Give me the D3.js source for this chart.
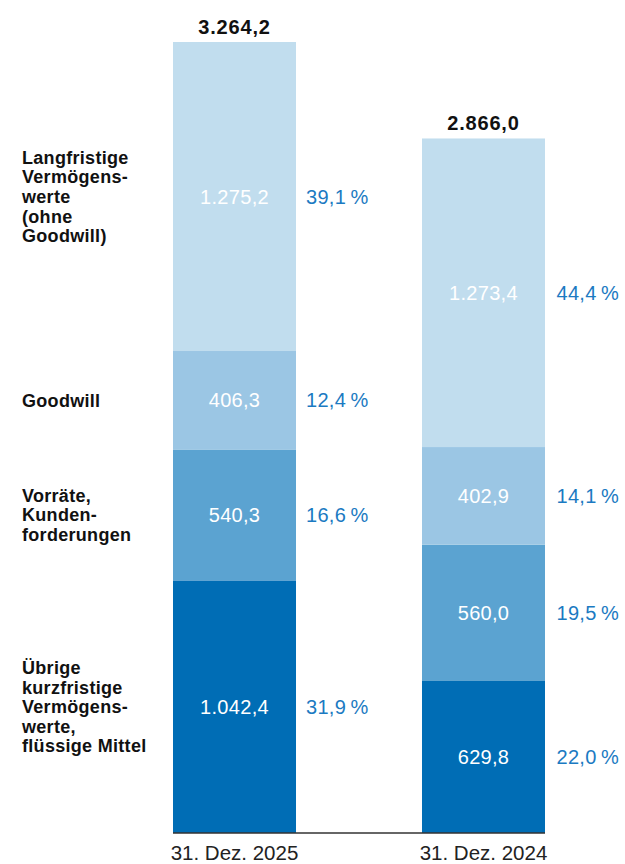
<!DOCTYPE html>
<html><head><meta charset="utf-8">
<script src="https://cdn.jsdelivr.net/npm/d3@7"></script>
<style>body{margin:0;background:#fff}svg{display:block}</style>
</head><body>
<script>
const periods = ["31. Dez. 2025", "31. Dez. 2024"];
const totals = [3264.2, 2866.0];
const categories = ["Übrige kurzfristige Vermögenswerte, flüssige Mittel", "Vorräte, Kundenforderungen", "Goodwill", "Langfristige Vermögenswerte (ohne Goodwill)"];
const categoryLines = [
  ["Übrige", "kurzfristige", "Vermögens-", "werte,", "flüssige Mittel"],
  ["Vorräte,", "Kunden-", "forderungen"],
  ["Goodwill"],
  ["Langfristige", "Vermögens-", "werte", "(ohne", "Goodwill)"]
];
const values2025 = [1042.4, 540.3, 406.3, 1275.2];
const values2024 = [629.8, 560.0, 402.9, 1273.4];
const shares2025 = ["31,9\u2009%", "16,6\u2009%", "12,4\u2009%", "39,1\u2009%"];
const shares2024 = ["22,0\u2009%", "19,5\u2009%", "14,1\u2009%", "44,4\u2009%"];
const colors = ["#006db5", "#5ba3d1", "#9bc6e4", "#c1ddee"];

const W = 625, H = 864;
const FONT = "'Liberation Sans', Arial, sans-serif";
const svg = d3.select("body").append("svg").attr("width", W).attr("height", H)
  .style("font-family", FONT);

const x = d3.scaleBand().domain(periods).range([173, 545]).paddingInner(0.506).paddingOuter(0);
const y = d3.scaleLinear().domain([0, 3264.2]).range([833, 42]);
const fmt = v => d3.formatLocale({decimal: ",", thousands: ".", grouping: [3], currency: ["", ""]}).format(",.1f")(v);

const series = [values2025, values2024];
const shares = [shares2025, shares2024];

periods.forEach((p, i) => {
  let cum = 0;
  const g = svg.append("g");
  series[i].forEach((v, j) => {
    const y0 = y(cum), y1 = y(cum + v);
    cum += v;
    g.append("rect").attr("x", x(p)).attr("width", x.bandwidth())
      .attr("y", y1).attr("height", y0 - y1).attr("fill", colors[j]);
    const cy = (y0 + y1) / 2;
    g.append("text").attr("x", x(p) + x.bandwidth() / 2).attr("y", cy).attr("dy", "0.36em")
      .attr("text-anchor", "middle").attr("fill", "#fff").attr("font-size", 20).attr("letter-spacing", 0.3).text(fmt(v));
    g.append("text").attr("x", x(p) + x.bandwidth() + 10 + i * 1.5).attr("y", cy).attr("dy", "0.36em")
      .attr("fill", "#1b7ac2").attr("font-size", 20).attr("letter-spacing", 0.3).text(shares[i][j]);
    if (i === 0) {
      const lines = categoryLines[j];
      const lh = 19.6;
      const t = svg.append("text").attr("x", 22).attr("font-size", 18).attr("font-weight", "bold")
        .attr("letter-spacing", 0.3).attr("fill", "#111");
      lines.forEach((l, k) => {
        t.append("tspan").attr("x", 22).attr("y", cy + (k - (lines.length - 1) / 2) * lh).attr("dy", "0.36em").text(l);
      });
    }
  });
  svg.append("text").attr("x", x(p) + x.bandwidth() / 2).attr("y", y(totals[i]) - 8)
    .attr("text-anchor", "middle").attr("font-size", 20).attr("font-weight", "bold").attr("letter-spacing", 0.8)
    .attr("fill", "#111").text(fmt(totals[i]));
});

const axis = d3.axisBottom(x).tickSize(0).tickPadding(10);
const ag = svg.append("g").attr("transform", "translate(0,833)").call(axis);
ag.select(".domain").attr("stroke", "#333").attr("stroke-width", 1.5).attr("d", "M173,0H545");
ag.selectAll("text").attr("font-size", 20.5).attr("fill", "#222").attr("font-family", FONT)
  .attr("y", 0).attr("dy", 27);
</script>
</body></html>
